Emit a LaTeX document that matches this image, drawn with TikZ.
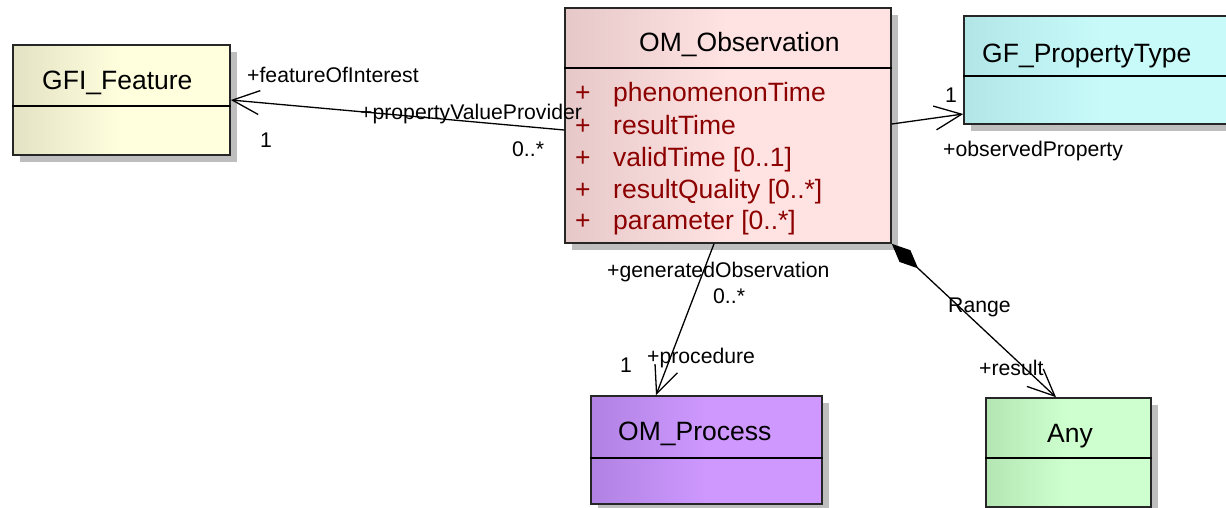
\documentclass[tikz,border=0pt]{standalone}
\usepackage{fontspec}
\setmainfont{Liberation Sans}
\usetikzlibrary{arrows.meta,shadows}
\definecolor{attr}{RGB}{140,0,0}
\definecolor{gfiL}{RGB}{228,226,196}\definecolor{gfiR}{RGB}{255,255,222}
\definecolor{obsL}{RGB}{230,200,200}\definecolor{obsR}{RGB}{255,226,226}
\definecolor{ptL}{RGB}{178,230,230}\definecolor{ptR}{RGB}{200,250,250}
\definecolor{prL}{RGB}{176,130,226}\definecolor{prR}{RGB}{206,152,255}
\definecolor{anL}{RGB}{180,230,180}\definecolor{anR}{RGB}{206,255,206}
\definecolor{shad}{RGB}{190,190,190}
\tikzset{
  umlbox/.style={draw=black!85,line width=1.6pt,rectangle,inner sep=0pt,
    drop shadow={shadow xshift=7pt,shadow yshift=-7pt,fill=shad,opacity=1}},
  boxline/.style={draw=black,line width=1.6pt},
  cname/.style={anchor=base west,inner sep=0pt,font=\fontsize{26.5}{31}\selectfont},
  attrtxt/.style={anchor=base west,inner sep=0pt,text=attr,font=\fontsize{26.5}{31}\selectfont},
  lbl/.style={anchor=base west,inner sep=0pt,font=\fontsize{21.2}{25}\selectfont},
  assoc/.style={line width=1.3pt,-{Straight Barb[length=27pt,width=24pt,line width=1.3pt]}},
  compo/.style={line width=1.3pt,{Diamond[length=36pt,width=16pt]}-{Straight Barb[length=27pt,width=24pt,line width=1.3pt]}}
}
\begin{document}
\begin{tikzpicture}[x=1pt,y=-1pt]
\useasboundingbox (0,0) rectangle (1226,508);
\clip (0,0) rectangle (1226,508);
% boxes
\node[umlbox,minimum width=217pt,minimum height=110pt,left color=gfiL,right color=gfiR,middle color=gfiR] (gfi) at (121.5,100) {};
\node[umlbox,minimum width=326pt,minimum height=235pt,left color=obsL,right color=obsR,middle color=obsR] (obs) at (728,125.5) {};
\node[umlbox,minimum width=276pt,minimum height=108pt,left color=ptL,right color=ptR,middle color=ptR] (pt) at (1102,70) {};
\node[umlbox,minimum width=231pt,minimum height=108pt,left color=prL,right color=prR,middle color=prR] (proc) at (706.5,450) {};
\node[umlbox,minimum width=165pt,minimum height=109pt,left color=anL,right color=anR,middle color=anR] (any) at (1068.5,452.5) {};
% dividers
\draw[boxline] (gfi.west |- 0,106) -- (gfi.east |- 0,106);
\draw[boxline] (obs.west |- 0,68) -- (obs.east |- 0,68);
\draw[boxline] (pt.west |- 0,76) -- (pt.east |- 0,76);
\draw[boxline] (proc.west |- 0,458) -- (proc.east |- 0,458);
\draw[boxline] (any.west |- 0,458) -- (any.east |- 0,458);
% class names
\node[cname] (gfiname) at (42,90) {GFI\_Feature};
\node[cname] (obsname) at (639,52) {OM\_Observation};
\node[cname] (ptname) at (982,63) {GF\_PropertyType};
\node[cname] (procname) at (618,440) {OM\_Process};
\node[cname] (anyname) at (1047,442) {Any};
% attributes
\node[attrtxt] (p1) at (575,102) {+};
\node[attrtxt] (a1) at (613,102) {phenomenonTime};
\node[attrtxt] (p2) at (575,135) {+};
\node[attrtxt] (a2) at (613,135) {resultTime};
\node[attrtxt] (p3) at (575,166) {+};
\node[attrtxt] (a3) at (613,166) {validTime [0..1]};
\node[attrtxt] (p4) at (575,198) {+};
\node[attrtxt] (a4) at (613,198) {resultQuality [0..*]};
\node[attrtxt] (p5) at (575,229) {+};
\node[attrtxt] (a5) at (613,229) {parameter [0..*]};
% connectors
\draw[assoc] (obs.west |- 0,130) -- (gfi.east |- 0,100);
\draw[assoc] (obs.east |- 0,124) -- (pt.west |- 0,114);
\draw[assoc] (obs.south -| 714,0) -- (proc.north -| 656,0);
\draw[compo] (obs.south east) -- (any.north -| 1056,0);
% labels
\node[lbl] (l1) at (247,83) {+featureOfInterest};
\node[lbl] (l2) at (260,148) {1};
\node[lbl] (l3) at (360,120) {+propertyValueProvider};
\node[lbl] (l4) at (512,157) {0..*};
\node[lbl] (l5) at (945,103) {1};
\node[lbl] (l6) at (943,157) {+observedProperty};
\node[lbl] (l7) at (607,277) {+generatedObservation};
\node[lbl] (l8) at (713,303) {0..*};
\node[lbl] (l9) at (620,372) {1};
\node[lbl] (l10) at (647,363) {+procedure};
\node[lbl] (l11) at (948,312) {Range};
\node[lbl] (l12) at (979,375) {+result};
\end{tikzpicture}
\end{document}
